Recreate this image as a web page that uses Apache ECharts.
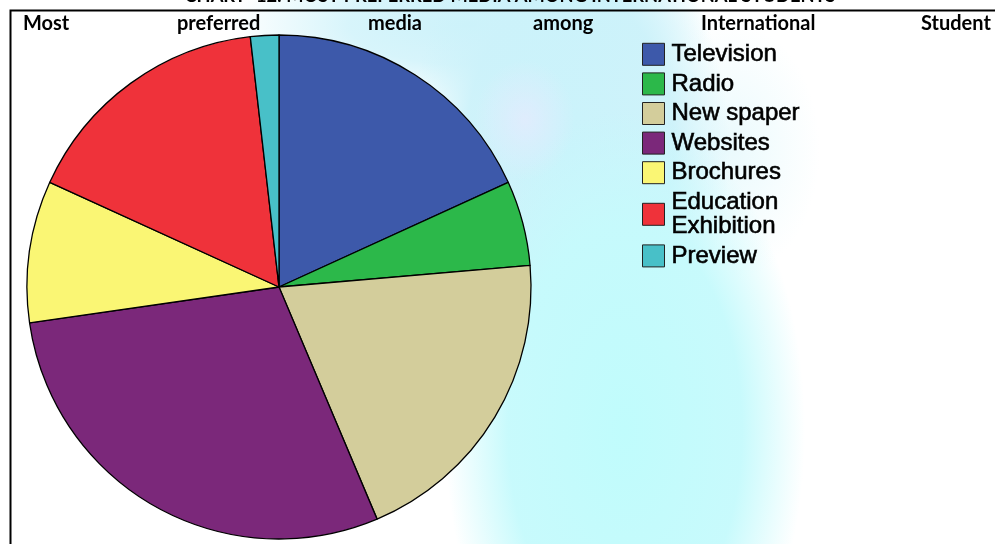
<!DOCTYPE html>
<html>
<head>
<meta charset="utf-8">
<script src="https://cdn.jsdelivr.net/npm/echarts@6/dist/echarts.min.js"></script>
<style>
  html, body { margin: 0; padding: 0; background: #fff; }
  #wrap {
    position: relative; width: 995px; height: 544px; overflow: hidden;
    background:
      radial-gradient(ellipse 50px 60px at 525px 120px, rgba(236,232,255,0.6) 0%, rgba(236,232,255,0) 100%),
      radial-gradient(ellipse 180px 320px at 625px 430px, rgba(192,252,252,1) 0%, rgba(198,250,252,0.97) 65%, rgba(255,255,255,0) 100%),
      radial-gradient(ellipse 160px 250px at 570px 150px, rgba(202,243,251,1) 0%, rgba(204,242,250,0.95) 65%, rgba(255,255,255,0) 100%),
      radial-gradient(ellipse 240px 80px at 470px 25px, rgba(205,242,250,1) 0%, rgba(205,242,250,0.8) 50%, rgba(255,255,255,0) 100%),
      radial-gradient(ellipse 90px 130px at 730px 150px, rgba(225,248,252,0.7) 0%, rgba(255,255,255,0) 100%),
      #ffffff;
  }
  #chart { position: absolute; left: 0; top: 0; width: 995px; height: 544px; }
</style>
</head>
<body>
<div id="wrap"><div id="chart"></div></div>
<script>
// Preferred media of international students (number of respondents)
const categories = ['Television', 'Radio', 'New spaper', 'Websites', 'Brochures', 'Education\nExhibition', 'Preview'];
const respondents = [20, 6, 22, 32, 10, 18, 2];
const sliceColors = ['#3d59aa', '#2cb84a', '#d3cd9b', '#7b287a', '#faf674', '#ef323a', '#48c0c8'];

const chartTitle = 'CHART- 12: MOST PREFERRED MEDIA AMONG INTERNATIONAL STUDENTS';
const subtitleWords = ['Most', 'preferred', 'media', 'among', 'International', 'Student'];
const subtitleLefts = [23, 177, 368, 533, 701, 921];

const chart = echarts.init(document.getElementById('chart'), null, { renderer: 'canvas' });

const headingFont = { fontFamily: 'Lato, "Open Sans", sans-serif', fontWeight: 'bold', fontSize: 20 };

const graphics = [
  // frame around the figure
  { type: 'rect', left: 8, top: 8, shape: { width: 1000, height: 600 },
    style: { fill: 'none', stroke: '#000', lineWidth: 2 }, silent: true },
  // heading clipped by the top edge
  { type: 'text', x: 510, y: -4,
    style: Object.assign({ text: chartTitle, fill: '#000', align: 'center', verticalAlign: 'middle' }, headingFont, { fontSize: 18.3 }) }
];
subtitleWords.forEach((w, i) => {
  graphics.push({ type: 'text', x: subtitleLefts[i], y: 24,
    style: Object.assign({ text: w, fill: '#000', align: 'left', verticalAlign: 'middle' }, headingFont) });
});

// two-line legend entries get a slightly taller line height
const legendData = categories.map(name =>
  name.indexOf('\n') >= 0 ? { name: name, textStyle: { lineHeight: 24 } } : name);

chart.setOption({
  backgroundColor: 'transparent',
  animation: false,
  color: sliceColors,
  legend: {
    orient: 'vertical',
    left: 642,
    top: 42,
    padding: 0,
    itemWidth: 22,
    itemHeight: 22,
    itemGap: 5,
    icon: 'rect',
    selectedMode: false,
    data: legendData,
    textStyle: {
      fontFamily: '"Liberation Sans", Arial, sans-serif',
      fontSize: 24,
      lineHeight: 22,
      color: '#000',
      padding: [0, 0, 0, 2],
      textBorderColor: '#000',
      textBorderWidth: 0.6
    },
    itemStyle: { borderColor: '#222', borderWidth: 1 }
  },
  graphic: graphics,
  series: [{
    type: 'pie',
    center: [279, 287],
    radius: 252,
    startAngle: 90,
    clockwise: true,
    silent: true,
    label: { show: false },
    labelLine: { show: false },
    itemStyle: { borderColor: '#000', borderWidth: 1.3 },
    data: categories.map((name, i) => ({ name: name, value: respondents[i] }))
  }]
});
</script>
</body>
</html>
